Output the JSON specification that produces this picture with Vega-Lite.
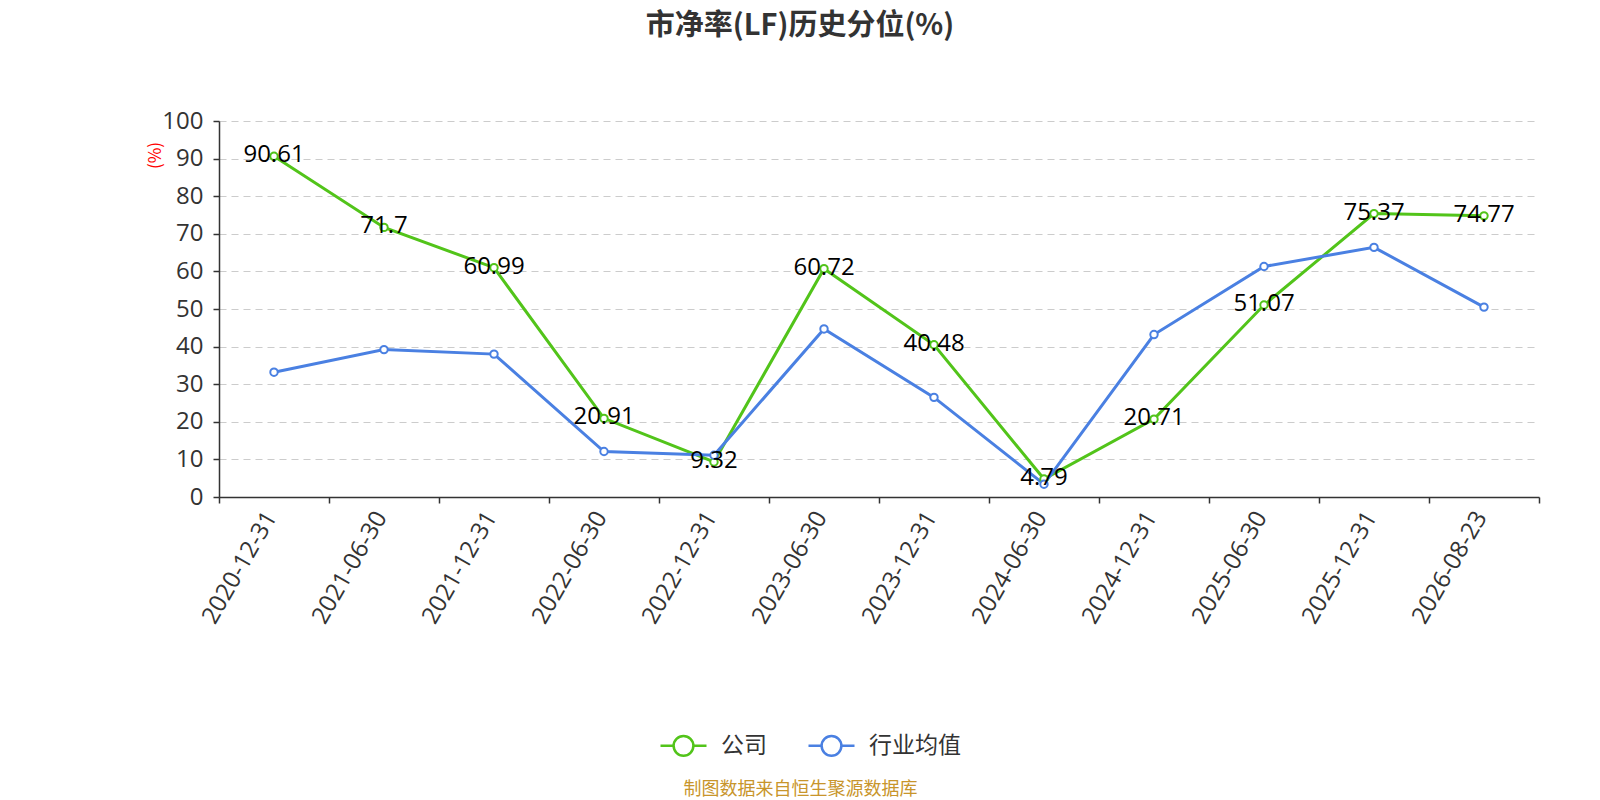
{
  "$schema": "https://vega.github.io/schema/vega-lite/v6.json",
  "autosize": {"type": "none"},
  "width": 1320,
  "height": 376,
  "padding": {"left": 219, "top": 121, "right": 61, "bottom": 303},
  "background": "white",
  "title": {
    "text": "市净率(LF)历史分位(%)",
    "font": "Noto Sans CJK SC",
    "fontSize": 29,
    "fontWeight": "bold",
    "color": "#333333",
    "anchor": "middle",
    "frame": "group",
    "dx": -79,
    "offset": 68
  },
  "config": {
    "view": {"stroke": null},
    "font": "Noto Sans CJK SC"
  },
  "data": {
    "values": [
      {"date": "2020-12-31", "series": "公司", "value": 90.61},
      {"date": "2021-06-30", "series": "公司", "value": 71.7},
      {"date": "2021-12-31", "series": "公司", "value": 60.99},
      {"date": "2022-06-30", "series": "公司", "value": 20.91},
      {"date": "2022-12-31", "series": "公司", "value": 9.32},
      {"date": "2023-06-30", "series": "公司", "value": 60.72},
      {"date": "2023-12-31", "series": "公司", "value": 40.48},
      {"date": "2024-06-30", "series": "公司", "value": 4.79},
      {"date": "2024-12-31", "series": "公司", "value": 20.71},
      {"date": "2025-06-30", "series": "公司", "value": 51.07},
      {"date": "2025-12-31", "series": "公司", "value": 75.37},
      {"date": "2026-08-23", "series": "公司", "value": 74.77},
      {"date": "2020-12-31", "series": "行业均值", "value": 33.2},
      {"date": "2021-06-30", "series": "行业均值", "value": 39.2},
      {"date": "2021-12-31", "series": "行业均值", "value": 38.0},
      {"date": "2022-06-30", "series": "行业均值", "value": 12.1},
      {"date": "2022-12-31", "series": "行业均值", "value": 11.1},
      {"date": "2023-06-30", "series": "行业均值", "value": 44.7},
      {"date": "2023-12-31", "series": "行业均值", "value": 26.5},
      {"date": "2024-06-30", "series": "行业均值", "value": 3.4},
      {"date": "2024-12-31", "series": "行业均值", "value": 43.2},
      {"date": "2025-06-30", "series": "行业均值", "value": 61.3},
      {"date": "2025-12-31", "series": "行业均值", "value": 66.4},
      {"date": "2026-08-23", "series": "行业均值", "value": 50.5}
    ]
  },
  "encoding": {
    "x": {
      "field": "date",
      "type": "ordinal",
      "sort": null,
      "bandPosition": 0.5,
      "scale": {"type": "band", "paddingInner": 0, "paddingOuter": 0},
      "axis": {
        "title": "制图数据来自恒生聚源数据库",
        "titleColor": "#c8952b",
        "titleFont": "Noto Sans CJK SC",
        "titleFontSize": 18,
        "titleFontWeight": "normal",
        "titleX": 581,
        "titleY": 292,
        "titleAlign": "center",
        "titleBaseline": "middle",
        "tickBand": "extent",
        "labelAngle": -60,
        "labelAlign": "right",
        "labelBaseline": "middle",
        "labelFont": "Open Sans",
        "labelFontSize": 24,
        "labelColor": "#333333",
        "labelPadding": 10,
        "labelOffset": -3,
        "domainColor": "#333333",
        "domainWidth": 1.5,
        "tickColor": "#333333",
        "tickSize": 6,
        "tickWidth": 1.5,
        "grid": false
      }
    },
    "y": {
      "field": "value",
      "type": "quantitative",
      "scale": {"domain": [0, 100], "nice": false},
      "axis": {
        "values": [0, 10, 20, 30, 40, 50, 60, 70, 80, 90, 100],
        "title": "(%)",
        "titleColor": "#ff0000",
        "titleFont": "Noto Sans CJK SC",
        "titleFontSize": 17,
        "titleFontWeight": "normal",
        "titleAngle": -90,
        "titleX": -64,
        "titleY": 34,
        "titleAlign": "center",
        "titleBaseline": "middle",
        "labelFont": "Open Sans",
        "labelFontSize": 24,
        "labelColor": "#333333",
        "labelPadding": 10,
        "domainColor": "#333333",
        "domainWidth": 1.5,
        "tickColor": "#333333",
        "tickSize": 6,
        "tickWidth": 1.5,
        "grid": true,
        "gridColor": "#cccccc",
        "gridDash": [7, 5],
        "gridWidth": 1.2
      }
    },
    "color": {
      "field": "series",
      "type": "nominal",
      "scale": {"domain": ["公司", "行业均值"], "range": ["#52c41a", "#4a80e2"]},
      "legend": {
        "title": null,
        "orient": "none",
        "direction": "horizontal",
        "legendX": 440,
        "legendY": 600,
        "symbolType": "M-1,0L-0.43,0M0.43,0L1,0M-0.43,0A0.43,0.43,0,1,1,0.43,0A0.43,0.43,0,1,1,-0.43,0",
        "symbolSize": 2116,
        "symbolStrokeWidth": 2.5,
        "symbolFillColor": "white",
        "labelFont": "Noto Sans CJK SC",
        "labelFontSize": 23,
        "labelColor": "#333333",
        "labelOffset": 13,
        "columnPadding": 36
      }
    }
  },
  "layer": [
    {
      "mark": {"type": "line", "strokeWidth": 3}
    },
    {
      "mark": {"type": "point", "filled": false, "fill": "white", "fillOpacity": 1, "size": 55, "strokeWidth": 2, "opacity": 1},
      "encoding": {
        "color": null,
        "stroke": {"field": "series", "type": "nominal", "scale": {"domain": ["公司", "行业均值"], "range": ["#52c41a", "#4a80e2"]}, "legend": null}
      }
    },
    {
      "transform": [{"filter": "datum.series === '公司'"}],
      "mark": {"type": "text", "font": "Open Sans", "fontSize": 24, "baseline": "middle", "align": "center", "dy": -1},
      "encoding": {
        "text": {"field": "value", "type": "quantitative"},
        "color": {"value": "#000000"}
      }
    }
  ]
}
